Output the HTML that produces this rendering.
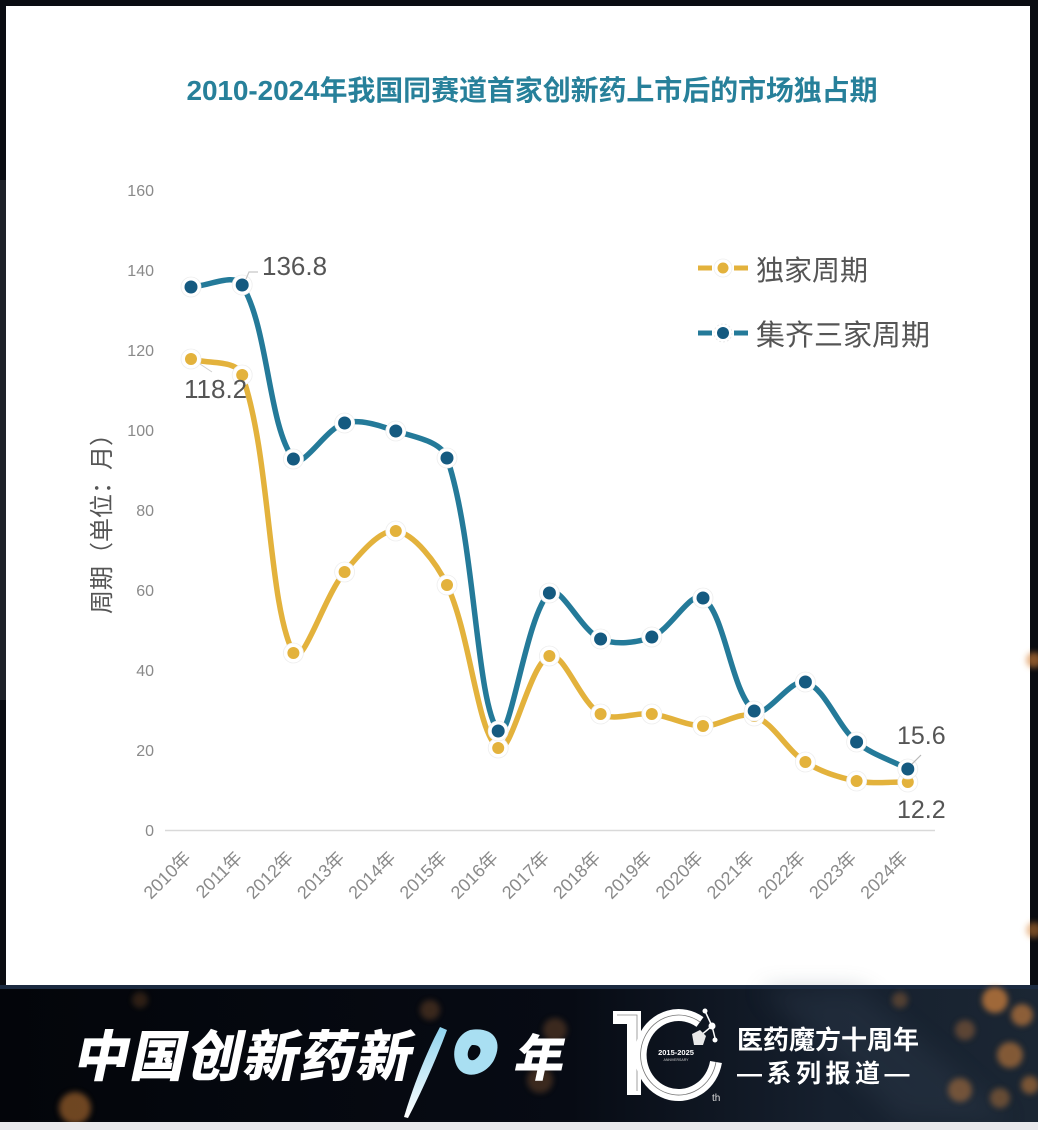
<!DOCTYPE html>
<html><head><meta charset="utf-8">
<style>
html,body{margin:0;padding:0;background:#0a0c12;}
body{width:1038px;height:1130px;overflow:hidden;}
svg{display:block;}
</style></head>
<body>
<svg width="1038" height="1130" viewBox="0 0 1038 1130" xmlns="http://www.w3.org/2000/svg">
<defs>
  <linearGradient id="bg" x1="0" y1="0" x2="1" y2="0">
    <stop offset="0" stop-color="#03050a"/>
    <stop offset="0.55" stop-color="#070b14"/>
    <stop offset="0.8" stop-color="#16202e"/>
    <stop offset="1" stop-color="#1b2633"/>
  </linearGradient>
  <linearGradient id="brush" x1="0" y1="1" x2="0" y2="0">
    <stop offset="0" stop-color="#ffffff"/>
    <stop offset="1" stop-color="#8fd3ee"/>
  </linearGradient>
  <filter id="blur" x="-50%" y="-50%" width="200%" height="200%"><feGaussianBlur stdDeviation="3"/></filter>
  <filter id="blur2" x="-50%" y="-50%" width="200%" height="200%"><feGaussianBlur stdDeviation="12"/></filter>
</defs>

<rect x="0" y="0" width="1038" height="1130" fill="#0a0c12"/>
<rect x="0" y="180" width="6" height="520" fill="#1e2129"/>

<rect x="6" y="6" width="1024" height="979" fill="#ffffff"/>

<text x="532" y="100" text-anchor="middle" font-family="Liberation Sans, Noto Sans CJK SC, sans-serif" font-size="28" font-weight="bold" fill="#27809a" letter-spacing="-0.1">2010-2024年我国同赛道首家创新药上市后的市场独占期</text>

<g font-family="Liberation Sans, sans-serif" font-size="16" fill="#8a8a8a" text-anchor="end">
  <text x="154" y="196">160</text>
  <text x="154" y="276">140</text>
  <text x="154" y="356">120</text>
  <text x="154" y="436">100</text>
  <text x="154" y="516">80</text>
  <text x="154" y="596">60</text>
  <text x="154" y="676">40</text>
  <text x="154" y="756">20</text>
  <text x="154" y="836">0</text>
</g>

<text transform="translate(110,518) rotate(-90)" text-anchor="middle" font-family="Liberation Sans, Noto Sans CJK SC, sans-serif" font-size="24" fill="#555">周期（单位：月）</text>

<line x1="165" y1="830.5" x2="935" y2="830.5" stroke="#d9d9d9" stroke-width="1.5"/>

<g font-family="Liberation Sans, Noto Sans CJK SC, sans-serif" font-size="18" fill="#8a8a8a" text-anchor="end">
  <text transform="translate(192,859) rotate(-45)">2010年</text>
  <text transform="translate(243.2,859) rotate(-45)">2011年</text>
  <text transform="translate(294.4,859) rotate(-45)">2012年</text>
  <text transform="translate(345.6,859) rotate(-45)">2013年</text>
  <text transform="translate(396.8,859) rotate(-45)">2014年</text>
  <text transform="translate(448,859) rotate(-45)">2015年</text>
  <text transform="translate(499.2,859) rotate(-45)">2016年</text>
  <text transform="translate(550.4,859) rotate(-45)">2017年</text>
  <text transform="translate(601.6,859) rotate(-45)">2018年</text>
  <text transform="translate(652.8,859) rotate(-45)">2019年</text>
  <text transform="translate(704,859) rotate(-45)">2020年</text>
  <text transform="translate(755.2,859) rotate(-45)">2021年</text>
  <text transform="translate(806.4,859) rotate(-45)">2022年</text>
  <text transform="translate(857.6,859) rotate(-45)">2023年</text>
  <text transform="translate(908.8,859) rotate(-45)">2024年</text>
</g>

<path fill="none" stroke="#e3b23c" stroke-width="5.5" stroke-linecap="round" d="M191,359 C208.07,364.33 236.75,359.36 242.2,375 C270.89,457.38 267.90,603.95 293.4,653 C302.04,669.63 324.34,596.14 344.6,572 C358.48,555.47 379.81,528.97 395.8,531 C413.95,533.30 436.65,563.06 447,585 C470.78,635.39 477.08,733.36 498.2,748 C511.22,757.02 529.72,662.53 549.4,656 C563.86,651.20 580.06,702.37 600.6,714 C614.20,721.70 634.96,712.03 651.8,714 C669.10,716.03 685.87,725.67 703,726 C720,726.33 739.49,710.83 754.2,716 C773.62,722.83 786.36,749.92 805.4,762 C820.50,771.59 838.99,777.56 856.6,781 C873.12,784.23 890.73,781.67 907.8,782"/>

<path fill="none" stroke="#247a99" stroke-width="5.5" stroke-linecap="round" d="M191,287 C208.07,286.33 234.68,272.37 242.2,285 C268.81,329.70 268.02,424.80 293.4,459 C302.16,470.80 325.92,428.11 344.6,423 C360.06,418.77 379.67,425.49 395.8,431 C413.81,437.16 441.11,440.75 447,458 C475.25,540.77 475.89,701.58 498.2,731 C510.03,746.59 526.14,613.89 549.4,593 C560.27,583.23 581.03,630.59 600.6,639 C615.17,645.26 636.67,643.06 651.8,637 C670.81,629.39 691.35,589.58 703,598 C725.48,614.24 731.05,692.01 754.2,711 C765.18,720 790.82,677.59 805.4,682 C824.95,687.92 836.92,725.28 856.6,742 C871.05,754.28 890.73,760 907.8,769"/>

<g stroke="#eeeeee" stroke-width="0.8" fill="#ffffff">
  <circle cx="191" cy="359" r="10"/><circle cx="242.2" cy="375" r="10"/><circle cx="293.4" cy="653" r="10"/>
  <circle cx="344.6" cy="572" r="10"/><circle cx="395.8" cy="531" r="10"/><circle cx="447" cy="585" r="10"/>
  <circle cx="498.2" cy="748" r="10"/><circle cx="549.4" cy="656" r="10"/><circle cx="600.6" cy="714" r="10"/>
  <circle cx="651.8" cy="714" r="10"/><circle cx="703" cy="726" r="10"/><circle cx="754.2" cy="716" r="10"/>
  <circle cx="805.4" cy="762" r="10"/><circle cx="856.6" cy="781" r="10"/><circle cx="907.8" cy="782" r="10"/>
</g>
<g fill="#e3b23c">
  <circle cx="191" cy="359" r="6"/><circle cx="242.2" cy="375" r="6"/><circle cx="293.4" cy="653" r="6"/>
  <circle cx="344.6" cy="572" r="6"/><circle cx="395.8" cy="531" r="6"/><circle cx="447" cy="585" r="6"/>
  <circle cx="498.2" cy="748" r="6"/><circle cx="549.4" cy="656" r="6"/><circle cx="600.6" cy="714" r="6"/>
  <circle cx="651.8" cy="714" r="6"/><circle cx="703" cy="726" r="6"/><circle cx="754.2" cy="716" r="6"/>
  <circle cx="805.4" cy="762" r="6"/><circle cx="856.6" cy="781" r="6"/><circle cx="907.8" cy="782" r="6"/>
</g>

<g stroke="#eeeeee" stroke-width="0.8" fill="#ffffff">
  <circle cx="191" cy="287" r="10"/><circle cx="242.2" cy="285" r="10"/><circle cx="293.4" cy="459" r="10"/>
  <circle cx="344.6" cy="423" r="10"/><circle cx="395.8" cy="431" r="10"/><circle cx="447" cy="458" r="10"/>
  <circle cx="498.2" cy="731" r="10"/><circle cx="549.4" cy="593" r="10"/><circle cx="600.6" cy="639" r="10"/>
  <circle cx="651.8" cy="637" r="10"/><circle cx="703" cy="598" r="10"/><circle cx="754.2" cy="711" r="10"/>
  <circle cx="805.4" cy="682" r="10"/><circle cx="856.6" cy="742" r="10"/><circle cx="907.8" cy="769" r="10"/>
</g>
<g fill="#155a80">
  <circle cx="191" cy="287" r="6.5"/><circle cx="242.2" cy="285" r="6.5"/><circle cx="293.4" cy="459" r="6.5"/>
  <circle cx="344.6" cy="423" r="6.5"/><circle cx="395.8" cy="431" r="6.5"/><circle cx="447" cy="458" r="6.5"/>
  <circle cx="498.2" cy="731" r="6.5"/><circle cx="549.4" cy="593" r="6.5"/><circle cx="600.6" cy="639" r="6.5"/>
  <circle cx="651.8" cy="637" r="6.5"/><circle cx="703" cy="598" r="6.5"/><circle cx="754.2" cy="711" r="6.5"/>
  <circle cx="805.4" cy="682" r="6.5"/><circle cx="856.6" cy="742" r="6.5"/><circle cx="907.8" cy="769" r="6.5"/>
</g>

<polyline points="246,279 249,272 258,272" fill="none" stroke="#c8c8c8" stroke-width="1.2"/>
<line x1="200" y1="364" x2="212" y2="372" stroke="#cfcfcf" stroke-width="1"/>
<line x1="912" y1="764" x2="921" y2="755" stroke="#b8b8b8" stroke-width="1.2"/>
<g font-family="Liberation Sans, sans-serif" fill="#555">
  <text x="262" y="275" font-size="26">136.8</text>
  <text x="184" y="398" font-size="26">118.2</text>
  <text x="897" y="744" font-size="25">15.6</text>
  <text x="897" y="818" font-size="25">12.2</text>
</g>

<g>
  <line x1="698" y1="268" x2="712" y2="268" stroke="#e3b23c" stroke-width="5"/>
  <line x1="734" y1="268" x2="748" y2="268" stroke="#e3b23c" stroke-width="5"/>
  <circle cx="723" cy="268" r="9" fill="#fff" stroke="#eee" stroke-width="0.8"/>
  <circle cx="723" cy="268" r="5.5" fill="#e3b23c"/>
  <line x1="698" y1="333" x2="712" y2="333" stroke="#247a99" stroke-width="5"/>
  <line x1="734" y1="333" x2="748" y2="333" stroke="#247a99" stroke-width="5"/>
  <circle cx="723" cy="333" r="9" fill="#fff" stroke="#e4e4e4" stroke-width="0.8" stroke-dasharray="2 2"/>
  <circle cx="723" cy="333" r="6" fill="#155a80"/>
  <text x="756" y="280" font-family="Liberation Sans, Noto Sans CJK SC, sans-serif" font-size="28" fill="#555">独家周期</text>
  <text x="756" y="345" font-family="Liberation Sans, Noto Sans CJK SC, sans-serif" font-size="29" fill="#555">集齐三家周期</text>
</g>

<rect x="0" y="985" width="1038" height="138" fill="url(#bg)"/>
<rect x="0" y="985" width="1038" height="4" fill="#1b2a40"/>
<polygon points="760,989 860,989 1010,1120 900,1120" fill="#3a4a5c" opacity="0.25" filter="url(#blur2)"/>
<g fill="#d9853a" filter="url(#blur)">
  <circle cx="995" cy="1000" r="13" opacity="0.7"/>
  <circle cx="1022" cy="1015" r="11" opacity="0.6"/>
  <circle cx="965" cy="1030" r="10" opacity="0.35"/>
  <circle cx="1010" cy="1055" r="13" opacity="0.55"/>
  <circle cx="960" cy="1090" r="12" opacity="0.45"/>
  <circle cx="1000" cy="1098" r="10" opacity="0.4"/>
  <circle cx="1030" cy="1085" r="9" opacity="0.5"/>
  <circle cx="900" cy="1000" r="8" opacity="0.3"/>
  <circle cx="75" cy="1108" r="16" opacity="0.5"/>
  <circle cx="540" cy="1080" r="13" opacity="0.25"/>
  <circle cx="430" cy="1010" r="10" opacity="0.25"/>
  <circle cx="555" cy="1030" r="12" opacity="0.25"/>
  <circle cx="140" cy="1000" r="8" opacity="0.2"/>
  <circle cx="1034" cy="660" r="8" opacity="0.6"/>
  <circle cx="1034" cy="930" r="8" opacity="0.5"/>
</g>
<rect x="0" y="1122" width="1038" height="8" fill="#e9e9ec"/>

<g transform="translate(0,1076) skewX(-12)">
  <text x="72" y="0" font-family="Liberation Sans, Noto Sans CJK SC, sans-serif" font-size="55" font-weight="900" fill="#ffffff" letter-spacing="1.5">中国创新药新</text>
  <text x="512" y="0" font-family="Liberation Sans, Noto Sans CJK SC, sans-serif" font-size="50" font-weight="900" fill="#ffffff">年</text>
</g>
<path d="M404,1117 C412,1090 425,1055 440,1027 L447,1030 C436,1060 420,1095 408,1118 Z" fill="url(#brush)"/>
<path d="M470,1030 C492,1026 504,1040 494,1060 C486,1075 466,1080 458,1068 C450,1055 455,1035 470,1030 Z M472,1045 C466,1050 466,1062 474,1060 C482,1056 484,1044 472,1045 Z" fill="#a9dff2" fill-rule="evenodd"/>

<g>
  <path d="M613,1011 L641,1011 L641,1095 L627,1095 L627,1024 L613,1024 Z" fill="#ffffff"/>
  <path d="M617,1015 L637,1015 L637,1091" fill="none" stroke="#8a8a8a" stroke-width="0.8"/>
  <path d="M700,1022 A38,40 0 1 0 716,1062" fill="none" stroke="#ffffff" stroke-width="12"/>
  <path d="M700,1022 A38,40 0 1 0 716,1062" fill="none" stroke="#777" stroke-width="0.8"/>
  <text x="676" y="1055" text-anchor="middle" font-family="Liberation Sans, sans-serif" font-size="7.5" font-weight="bold" fill="#fff">2015-2025</text>
  <text x="676" y="1061" text-anchor="middle" font-family="Liberation Sans, sans-serif" font-size="3.5" fill="#ccc">ANNIVERSARY</text>
  <line x1="705" y1="1011" x2="712" y2="1026" stroke="#fff" stroke-width="1.5"/>
  <line x1="712" y1="1026" x2="700" y2="1036" stroke="#fff" stroke-width="1.5"/>
  <line x1="712" y1="1026" x2="715" y2="1038" stroke="#fff" stroke-width="1.5"/>
  <circle cx="705" cy="1011" r="2.5" fill="#fff"/>
  <circle cx="712" cy="1026" r="3.5" fill="#fff"/>
  <circle cx="715" cy="1040" r="2.5" fill="#fff"/>
  <polygon points="692,1034 700,1030 706,1036 703,1045 694,1045" fill="#e8e8e8"/>
  <text x="712" y="1101" font-family="Liberation Sans, sans-serif" font-size="10" fill="#ddd">th</text>
</g>
<text x="737" y="1049" font-family="Liberation Sans, Noto Sans CJK SC, sans-serif" font-size="26" font-weight="bold" fill="#ffffff">医药魔方十周年</text>
<text x="737" y="1082" font-family="Liberation Sans, Noto Sans CJK SC, sans-serif" font-size="25" font-weight="bold" fill="#ffffff" letter-spacing="4.5">—系列报道—</text>
</svg>
</body></html>
